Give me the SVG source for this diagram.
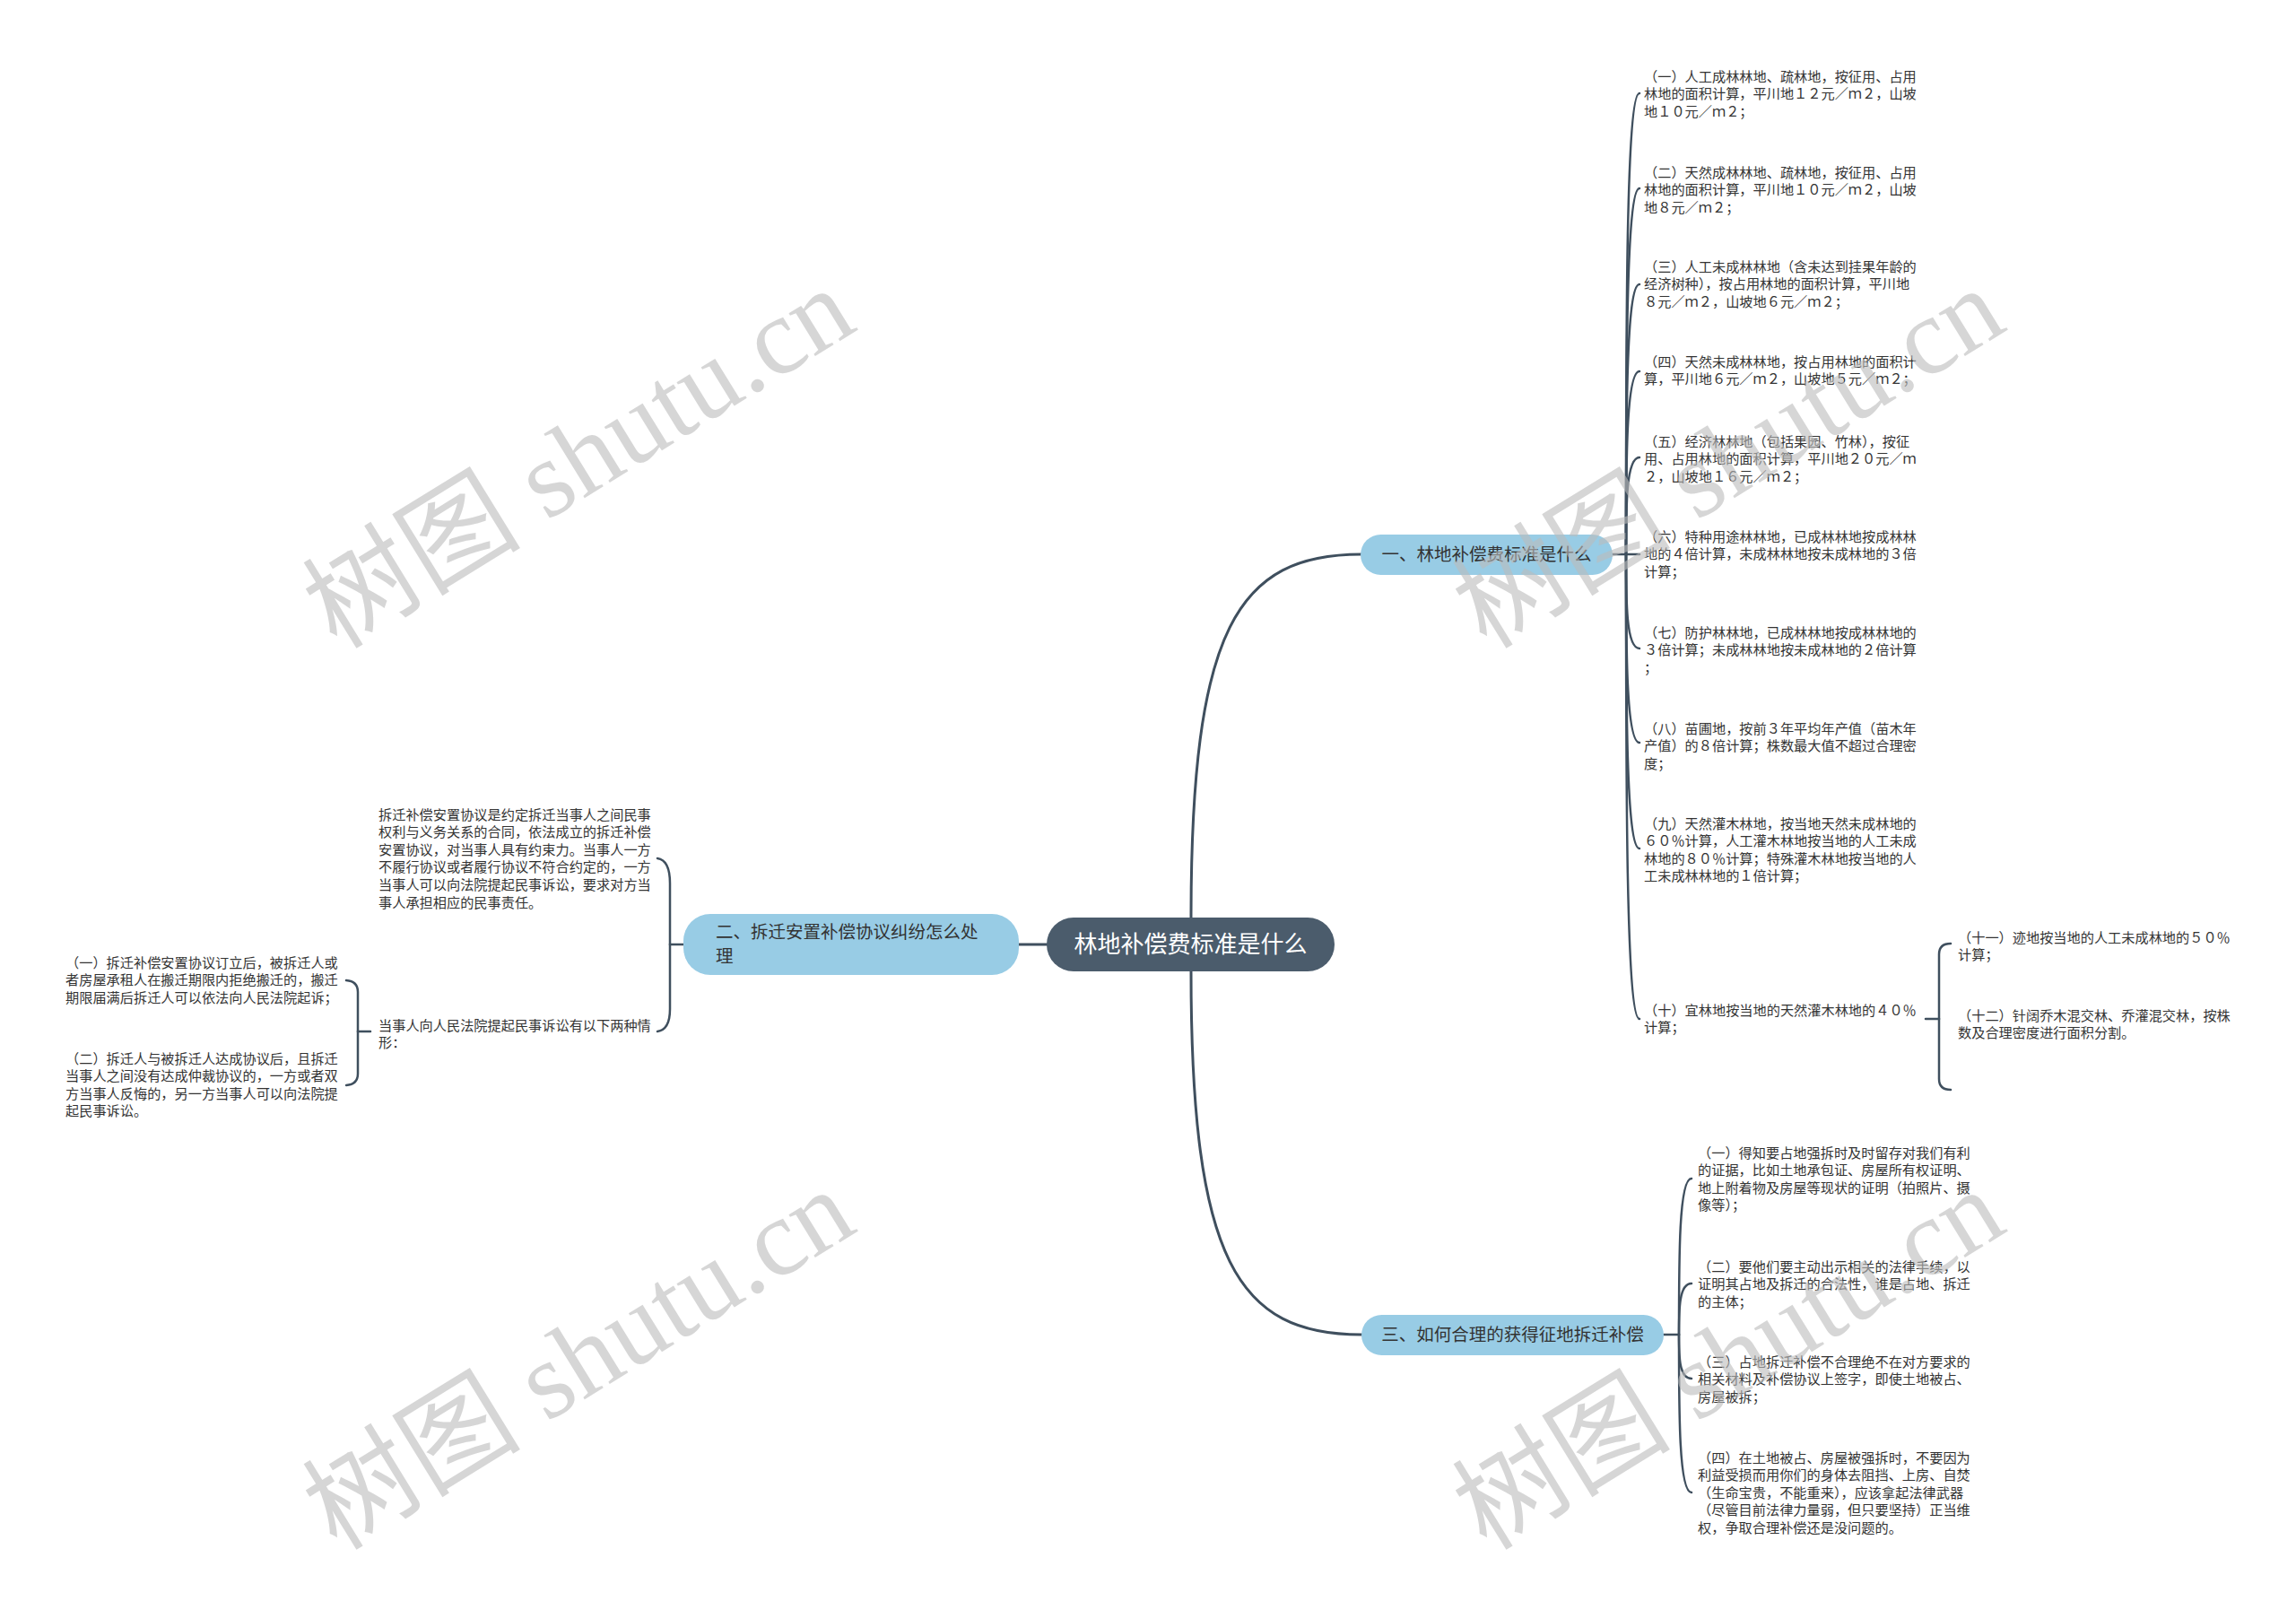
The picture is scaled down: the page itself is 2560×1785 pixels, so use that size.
<svg xmlns="http://www.w3.org/2000/svg" width="2560" height="1785" viewBox="0 0 2560 1785">
<style>
.leaf{font-family:"Noto Sans CJK SC","Noto Sans",sans-serif;font-size:15.2px;fill:#333333}
.br{font-family:"Noto Sans CJK SC","Noto Sans",sans-serif;font-size:19.5px;fill:#333333}
.rt{font-family:"Noto Sans CJK SC","Noto Sans",sans-serif;font-size:26px;fill:#ffffff}
.c{fill:none;stroke:#3f4f5e;stroke-width:2.5;stroke-linecap:round}
.m{fill:none;stroke:#3f4f5e;stroke-width:3;stroke-linecap:round}
.bnode{fill:#98cce5}
.wm{font-size:122px;fill:#bcbcbc;opacity:0.6}
</style>
<rect width="2560" height="1785" fill="#ffffff"/>
<g id="connectors">
<path class="m" d="M1328,1053 L1328,1023 C1328,700 1380,618 1518,618"/>
<path class="m" d="M1328,1053 L1328,1083 C1328,1406 1380,1488 1518,1488"/>
<path class="m" d="M1167,1053 L1136,1053"/>
<path class="c" d="M1798,618 L1813,618"/>
<path class="c" d="M1813,618 C1813,361 1813,104 1828,104"/>
<path class="c" d="M1813,618 C1813,415 1813,210 1828,210"/>
<path class="c" d="M1813,618 C1813,468 1813,317 1828,317"/>
<path class="c" d="M1813,618 C1813,516 1813,414 1828,414"/>
<path class="c" d="M1813,618 C1813,564 1813,510 1828,510"/>
<path class="c" d="M1813,618 L1828,618"/>
<path class="c" d="M1813,618 C1813,670 1813,723 1828,723"/>
<path class="c" d="M1813,618 C1813,722 1813,828 1828,828"/>
<path class="c" d="M1813,618 C1813,782 1813,946 1828,946"/>
<path class="c" d="M1813,618 C1813,876 1813,1136 1828,1136"/>
<path class="c" d="M2147,1136 L2162,1136"/>
<path class="c" d="M2162,1136 L2162,1064 Q2162,1052 2175,1052"/>
<path class="c" d="M2162,1136 L2162,1203 Q2162,1215 2175,1215"/>
<path class="c" d="M1855,1488 L1872,1488"/>
<path class="c" d="M1872,1488 C1872,1400 1872,1314 1886,1314"/>
<path class="c" d="M1872,1488 C1872,1460 1872,1431 1886,1431"/>
<path class="c" d="M1872,1488 C1872,1512 1872,1537 1886,1537"/>
<path class="c" d="M1872,1488 C1872,1576 1872,1664 1886,1664"/>
<path class="c" d="M762,1053 L747,1053"/>
<path class="c" d="M747,1053 L747,985 Q747,959 733,957"/>
<path class="c" d="M747,1053 L747,1125 Q747,1148 733,1150"/>
<path class="c" d="M413,1150 L399,1150"/>
<path class="c" d="M399,1150 L399,1106 Q399,1094 386,1093"/>
<path class="c" d="M399,1150 L399,1197 Q399,1209 386,1210"/>
</g>
<g id="root">
<rect x="1167" y="1023" width="321" height="60" rx="30" fill="#4b5c6c"/>
<text class="rt" x="1327.5" y="1062" text-anchor="middle">林地补偿费标准是什么</text>
</g>
<g id="branch1">
<rect class="bnode" x="1517" y="596" width="281" height="45" rx="22.5"/>
<text class="br" x="1657.5" y="625" text-anchor="middle">一、林地补偿费标准是什么</text>
</g>
<g id="branch2">
<rect class="bnode" x="762" y="1019" width="374" height="68" rx="30"/>
<text class="br"><tspan x="798" y="1046">二、拆迁安置补偿协议纠纷怎么处</tspan><tspan x="798" y="1073">理</tspan></text>
</g>
<g id="branch3">
<rect class="bnode" x="1518" y="1466" width="337" height="45" rx="22.5"/>
<text class="br" x="1686.5" y="1495" text-anchor="middle">三、如何合理的获得征地拆迁补偿</text>
</g>
<g id="b1c1"><text class="leaf"><tspan x="1833" y="90.5">（一）人工成林林地、疏林地，按征用、占用</tspan><tspan x="1833" y="110.1">林地的面积计算，平川地１２元／ｍ２，山坡</tspan><tspan x="1833" y="129.7">地１０元／ｍ２；</tspan></text></g>
<g id="b1c2"><text class="leaf"><tspan x="1833" y="197.5">（二）天然成林林地、疏林地，按征用、占用</tspan><tspan x="1833" y="217.1">林地的面积计算，平川地１０元／ｍ２，山坡</tspan><tspan x="1833" y="236.7">地８元／ｍ２；</tspan></text></g>
<g id="b1c3"><text class="leaf"><tspan x="1833" y="302.5">（三）人工未成林林地（含未达到挂果年龄的</tspan><tspan x="1833" y="322.1">经济树种），按占用林地的面积计算，平川地</tspan><tspan x="1833" y="341.7">８元／ｍ２，山坡地６元／ｍ２；</tspan></text></g>
<g id="b1c4"><text class="leaf"><tspan x="1833" y="408.5">（四）天然未成林林地，按占用林地的面积计</tspan><tspan x="1833" y="428.1">算，平川地６元／ｍ２，山坡地５元／ｍ２；</tspan></text></g>
<g id="b1c5"><text class="leaf"><tspan x="1833" y="497.5">（五）经济林林地（包括果园、竹林），按征</tspan><tspan x="1833" y="517.1">用、占用林地的面积计算，平川地２０元／ｍ</tspan><tspan x="1833" y="536.7">２，山坡地１６元／ｍ２；</tspan></text></g>
<g id="b1c6"><text class="leaf"><tspan x="1833" y="603.5">（六）特种用途林林地，已成林林地按成林林</tspan><tspan x="1833" y="623.1">地的４倍计算，未成林林地按未成林地的３倍</tspan><tspan x="1833" y="642.7">计算；</tspan></text></g>
<g id="b1c7"><text class="leaf"><tspan x="1833" y="710.5">（七）防护林林地，已成林林地按成林林地的</tspan><tspan x="1833" y="730.1">３倍计算；未成林林地按未成林地的２倍计算</tspan><tspan x="1833" y="749.7">；</tspan></text></g>
<g id="b1c8"><text class="leaf"><tspan x="1833" y="817.5">（八）苗圃地，按前３年平均年产值（苗木年</tspan><tspan x="1833" y="837.1">产值）的８倍计算；株数最大值不超过合理密</tspan><tspan x="1833" y="856.7">度；</tspan></text></g>
<g id="b1c9"><text class="leaf"><tspan x="1833" y="923.5">（九）天然灌木林地，按当地天然未成林地的</tspan><tspan x="1833" y="943.1">６０％计算，人工灌木林地按当地的人工未成</tspan><tspan x="1833" y="962.7">林地的８０％计算；特殊灌木林地按当地的人</tspan><tspan x="1833" y="982.3">工未成林林地的１倍计算；</tspan></text></g>
<g id="b1c10"><text class="leaf"><tspan x="1833" y="1131.5">（十）宜林地按当地的天然灌木林地的４０％</tspan><tspan x="1833" y="1151.1">计算；</tspan></text></g>
<g id="b1c10a"><text class="leaf"><tspan x="2183" y="1050.5">（十一）迹地按当地的人工未成林地的５０％</tspan><tspan x="2183" y="1070.1">计算；</tspan></text></g>
<g id="b1c10b"><text class="leaf"><tspan x="2183" y="1137.5">（十二）针阔乔木混交林、乔灌混交林，按株</tspan><tspan x="2183" y="1157.1">数及合理密度进行面积分割。</tspan></text></g>
<g id="b2c1"><text class="leaf"><tspan x="422" y="913.5">拆迁补偿安置协议是约定拆迁当事人之间民事</tspan><tspan x="422" y="933.1">权利与义务关系的合同，依法成立的拆迁补偿</tspan><tspan x="422" y="952.7">安置协议，对当事人具有约束力。当事人一方</tspan><tspan x="422" y="972.3">不履行协议或者履行协议不符合约定的，一方</tspan><tspan x="422" y="991.9">当事人可以向法院提起民事诉讼，要求对方当</tspan><tspan x="422" y="1011.5">事人承担相应的民事责任。</tspan></text></g>
<g id="b2c2"><text class="leaf"><tspan x="422" y="1148.5">当事人向人民法院提起民事诉讼有以下两种情</tspan><tspan x="422" y="1168.1">形：</tspan></text></g>
<g id="b2c2a"><text class="leaf"><tspan x="73" y="1078.5">（一）拆迁补偿安置协议订立后，被拆迁人或</tspan><tspan x="73" y="1098.1">者房屋承租人在搬迁期限内拒绝搬迁的，搬迁</tspan><tspan x="73" y="1117.7">期限届满后拆迁人可以依法向人民法院起诉；</tspan></text></g>
<g id="b2c2b"><text class="leaf"><tspan x="73" y="1185.5">（二）拆迁人与被拆迁人达成协议后，且拆迁</tspan><tspan x="73" y="1205.1">当事人之间没有达成仲裁协议的，一方或者双</tspan><tspan x="73" y="1224.7">方当事人反悔的，另一方当事人可以向法院提</tspan><tspan x="73" y="1244.3">起民事诉讼。</tspan></text></g>
<g id="b3c1"><text class="leaf"><tspan x="1893" y="1290.5">（一）得知要占地强拆时及时留存对我们有利</tspan><tspan x="1893" y="1310.1">的证据，比如土地承包证、房屋所有权证明、</tspan><tspan x="1893" y="1329.7">地上附着物及房屋等现状的证明（拍照片、摄</tspan><tspan x="1893" y="1349.3">像等）；</tspan></text></g>
<g id="b3c2"><text class="leaf"><tspan x="1893" y="1417.5">（二）要他们要主动出示相关的法律手续，以</tspan><tspan x="1893" y="1437.1">证明其占地及拆迁的合法性，谁是占地、拆迁</tspan><tspan x="1893" y="1456.7">的主体；</tspan></text></g>
<g id="b3c3"><text class="leaf"><tspan x="1893" y="1523.5">（三）占地拆迁补偿不合理绝不在对方要求的</tspan><tspan x="1893" y="1543.1">相关材料及补偿协议上签字，即使土地被占、</tspan><tspan x="1893" y="1562.7">房屋被拆；</tspan></text></g>
<g id="b3c4"><text class="leaf"><tspan x="1893" y="1630.5">（四）在土地被占、房屋被强拆时，不要因为</tspan><tspan x="1893" y="1650.1">利益受损而用你们的身体去阻挡、上房、自焚</tspan><tspan x="1893" y="1669.7">（生命宝贵，不能重来），应该拿起法律武器</tspan><tspan x="1893" y="1689.3">（尽管目前法律力量弱，但只要坚持）正当维</tspan><tspan x="1893" y="1708.9">权，争取合理补偿还是没问题的。</tspan></text></g>
<g id="watermarks">
<text class="wm" x="645" y="552" text-anchor="middle" transform="rotate(-31.6 645 510)"><tspan font-family="Noto Sans CJK SC, sans-serif">树图</tspan><tspan font-family="Liberation Serif, serif"> shutu.cn</tspan></text>
<text class="wm" x="645" y="1557" text-anchor="middle" transform="rotate(-31.6 645 1515)"><tspan font-family="Noto Sans CJK SC, sans-serif">树图</tspan><tspan font-family="Liberation Serif, serif"> shutu.cn</tspan></text>
<text class="wm" x="1927" y="552" text-anchor="middle" transform="rotate(-31.6 1927 510)"><tspan font-family="Noto Sans CJK SC, sans-serif">树图</tspan><tspan font-family="Liberation Serif, serif"> shutu.cn</tspan></text>
<text class="wm" x="1927" y="1557" text-anchor="middle" transform="rotate(-31.6 1927 1515)"><tspan font-family="Noto Sans CJK SC, sans-serif">树图</tspan><tspan font-family="Liberation Serif, serif"> shutu.cn</tspan></text>
</g>
</svg>
